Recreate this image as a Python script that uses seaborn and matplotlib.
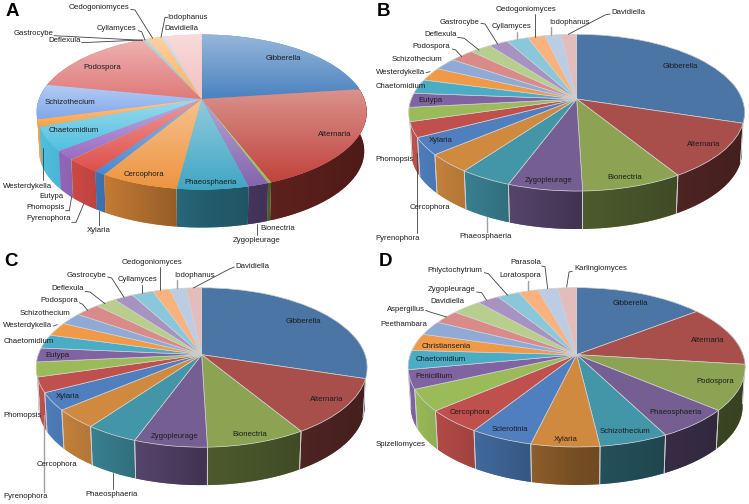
import numpy as np
import seaborn as sns
import matplotlib
matplotlib.use("Agg")
import matplotlib.pyplot as plt
from matplotlib.patches import Polygon
from matplotlib.transforms import Transform

# slice sizes in degrees of the pie, clockwise from 12 o'clock
names_a = ["Gibberella", "Alternaria", "Bionectria", "Zygopleurage", "Phaeosphaeria", "Cercophora", "Xylaria",
           "Pyrenophora", "Phomopsis", "Eutypa", "Chaetomidium", "Westerdykella", "Schizothecium", "Podospora",
           "Deflexula", "Gastrocybe", "Cyllamyces", "Oedogoniomyces", "Iodophanus", "Davidiella"]
values_a = [82.4, 76.6, 1.0, 6.15, 21.35, 23.5, 3.4, 10.5, 0.2, 6.9, 18.0, 5.2, 26.2, 53.8, 0.4, 0.4, 1.3, 6.2, 1.5, 15.2]

names_b = names_a
values_b = [107.6, 41.0, 29.7, 21.9, 15.5, 13.8, 12.7, 11.3, 10.3, 10.6, 10.8, 10.1, 9.2, 10.0, 8.6, 8.0, 8.8, 7.1, 6.6, 6.4]

names_c = names_a
values_c = [107.1, 41.2, 30.0, 22.1, 15.9, 13.9, 12.8, 11.0, 10.7, 10.3, 10.2, 10.1, 9.1, 10.1, 8.6, 8.0, 8.8, 7.1, 6.6, 6.4]

names_d = ["Gibberella", "Alternaria", "Podospora", "Phaeosphaeria", "Schizothecium", "Xylaria", "Sclerotinia",
           "Cercophora", "Spizellomyces", "Penicillium", "Chaetomidium", "Christiansenia", "Peethambara", "Aspergillus",
           "Davidiella", "Zygopleurage", "Phlyctochytrium", "Loratospora", "Parasola", "Karlingiomyces"]
values_d = [52.4, 44.6, 33.1, 22.6, 20.5, 20.3, 18.8, 17.3, 15.8, 13.8, 14.0, 12.7, 10.6, 10.3, 11.9, 8.9, 9.0, 7.8, 8.0, 7.6]

colors_flat = ["#4A75A5", "#A84F4C", "#8BA353", "#755E92", "#4395A8", "#D08A40",
               "#4F7FBE", "#C0504D", "#9BBB59", "#8064A2", "#4BACC6", "#F09A48",
               "#8FAAD6", "#D98B8A", "#B8CE8C", "#A793C2", "#8AC7DA", "#F9B27D", "#BACDE5", "#E3BCBC"]
colors_gloss = ["#4A82C0", "#C0443C", "#9BBB59", "#8565B0", "#40A6C4", "#EE9540",
                "#4A88D0", "#E0504C", "#9BBB59", "#9A6CC4", "#50C0E0", "#FFA040",
                "#80A8EC", "#E07A7A", "#B8CE8C", "#A793C2", "#8AC7DA", "#FFB060", "#BACDE5", "#F4C0C0"]

# label centres, same order as the names (axes units are 1/3 pixel)
labels_a = [(850, 177), (1005, 403), (833, 686), (769, 722), (631, 547), (433, 524), (296, 690), (147, 657), (138, 622),
            (153, 591), (221, 392), (84, 561), (211, 307), (306, 202), (195, 120), (100, 100), (350, 85), (297, 23),
            (562, 52), (543, 87)]
labels_b = [(915, 201), (986, 433), (750, 533), (522, 541), (331, 711), (165, 623), (197, 423), (68, 717), (60, 479),
            (165, 301), (78, 261), (78, 216), (127, 178), (170, 141), (197, 105), (255, 66), (411, 80), (453, 29),
            (582, 66), (761, 39)]
labels_c = [(909, 208), (979, 443), (748, 546), (523, 553), (335, 728), (172, 637), (204, 433), (77, 733), (67, 491),
            (172, 310), (85, 268), (84, 221), (135, 184), (177, 146), (203, 110), (260, 71), (413, 83), (455, 32),
            (582, 70), (758, 43)]
labels_d = [(766, 155), (998, 264), (1022, 389), (902, 481), (751, 539), (572, 563), (405, 532), (285, 480), (76, 578),
            (177, 374), (197, 322), (215, 285), (85, 217), (92, 172), (217, 148), (229, 113), (240, 56), (437, 71),
            (451, 33), (678, 51)]

dark = "#404040"
grey = "#a0a0a0"
leaders_a = [([392, 405, 458], [28, 30, 115], dark), ([503, 495, 483], [52, 52, 112], dark),
             ([415, 425, 435], [92, 95, 120], dark), ([162, 428], [107, 121], dark), ([245, 428], [128, 120], dark),
             ([128, 128], [445, 540], dark), ([197, 208, 215], [632, 632, 590], dark),
             ([215, 228, 252], [667, 667, 610], dark), ([298, 298], [632, 675], dark), ([770, 770], [672, 705], dark)]
leaders_b = [([705, 690, 580], [42, 45, 103], dark), ([529, 529], [80, 105], grey), ([480, 480], [42, 110], dark),
             ([425, 425], [95, 118], grey), ([318, 330, 368], [70, 72, 132], dark), ([248, 268, 312], [112, 115, 150], dark),
             ([232, 242, 260], [147, 150, 170], dark), ([153, 165], [218, 215], dark),
             ([125, 125], [460, 700], dark), ([337, 337], [650, 697], grey)]
leaders_c = [([703, 690, 580], [45, 50, 108], dark), ([531, 531], [84, 108], grey), ([481, 481], [45, 115], dark),
             ([427, 427], [98, 122], dark), ([323, 335, 372], [75, 78, 136], dark), ([255, 270, 315], [118, 120, 155], dark),
             ([238, 248, 263], [152, 157, 175], dark), ([160, 172], [222, 218], dark),
             ([131, 131], [490, 720], grey), ([339, 339], [662, 712], dark)]
leaders_d = [([592, 582, 575], [58, 60, 105], dark), ([500, 510, 518], [42, 44, 110], dark), ([459, 459], [87, 115], grey),
             ([328, 340, 398], [62, 65, 130], dark), ([305, 320, 335], [120, 122, 145], dark),
             ([152, 165, 215], [175, 180, 195], dark)]


class DiscToPanel(Transform):
    # tilted disc: unit circle to axes units, with some perspective
    input_dims = 2
    output_dims = 2

    def __init__(self, cx, cy, a, b, k, drop=0, scale=1.0):
        super().__init__()
        self.cx, self.cy, self.a, self.b, self.k = cx, cy, a, b, k
        self.drop, self.scale = drop, scale

    def transform_non_affine(self, values):
        x, y = np.asarray(values).T
        w = 1 + self.k * y
        return np.column_stack((self.cx + self.scale * self.a * x / w,
                                self.cy + self.drop - self.scale * self.b * y / w))


def draw_sides(ax, wedges, colors, disc, disc_low, edge):
    left, right = disc.cx - disc.a, disc.cx + disc.a
    sides = []
    for w, col in zip(wedges, colors):
        t = np.radians(np.linspace(w.theta1, w.theta2, 60))
        t = t[np.sin(t) < 0.25]
        if len(t) >= 2:
            sides.append((np.sin(t).mean(), t, col))
    for _, t, col in sorted(sides, key=lambda s: -s[0]):
        rim = np.column_stack((np.cos(t), np.sin(t)))
        top = disc.transform(rim)
        low = disc_low.transform(rim)
        verts = np.vstack((top, low[::-1]))
        face = Polygon(verts, closed=True, facecolor=col, edgecolor="none", transform=ax.transData, zorder=1)
        ax.add_patch(face)
        x0, x1 = verts[:, 0].min(), verts[:, 0].max()
        shade = np.interp(np.linspace(x0, x1, 64), [left, disc.cx, right], [1.0, 0.56, 0.40])
        rgb = np.array(matplotlib.colors.to_rgb(col)) * shade[:, None]
        im = ax.imshow(rgb[None, :, :], extent=(x0, x1, verts[:, 1].max(), verts[:, 1].min()),
                       aspect="auto", interpolation="bilinear", zorder=1)
        im.set_clip_path(face)
        if edge != "none":
            for i in (0, -1):
                if rim[i, 1] < 0:
                    ax.plot([top[i, 0], low[i, 0]], [top[i, 1], low[i, 1]], color=edge, lw=0.6, zorder=1.5)


def draw_gloss(ax, wedges, colors, disc):
    # panel A: each slice fades from pale at its top to full colour at its bottom
    for w, col in zip(wedges, colors):
        pts = disc.transform(w.get_path().vertices)
        base = np.array(matplotlib.colors.to_rgb(col))
        f = np.linspace(0.42, 0.0, 64)[:, None]
        rgb = base * (1 - f) + f
        im = ax.imshow(rgb[:, None, :], extent=(pts[:, 0].min(), pts[:, 0].max(), pts[:, 1].max(), pts[:, 1].min()),
                       aspect="auto", interpolation="bilinear", zorder=3.1)
        im.set_clip_path(w)


def draw_panel(ax, letter, names, values, colors, labels, leaders, geom, edge, gloss=False):
    cx, cy, a, b, k = geom
    disc = DiscToPanel(cx, cy, a, b, k)
    disc_low = DiscToPanel(cx, cy, a, b, k, drop=118, scale=0.985)

    wedges, _ = ax.pie(values, colors=sns.color_palette(colors), startangle=90, counterclock=False,
                       wedgeprops=dict(edgecolor=edge, linewidth=0.5))
    for w in wedges:
        w.set_transform(disc + ax.transData)
        w.set_zorder(3)

    draw_sides(ax, wedges, colors, disc, disc_low, edge)
    if gloss:
        draw_gloss(ax, wedges, colors, disc)

    for xs, ys, c in leaders:
        ax.plot(xs, ys, color=c, lw=1.0 if c == grey else 0.6, zorder=4)
    for name, (x, y) in zip(names, labels):
        ax.text(x, y, name, ha="center", va="center", fontsize=5.6, color="#1c1c1c", zorder=5)
    ax.text(letter[1], letter[2], letter[0], ha="center", va="center", fontsize=13.5, fontweight="bold",
            color="black", zorder=5)

    ax.set_aspect("auto")
    ax.set_xlim(0, 1125)
    ax.set_ylim(756, 0)
    ax.axis("off")


sns.set_theme(style="white", font="Liberation Sans")
plt.rcParams["font.family"] = ["Liberation Sans", "DejaVu Sans"]

fig = plt.figure(figsize=(7.49, 5.04), dpi=100)
W, H = 749.0, 504.0


def panel_axes(x0, y0):
    return fig.add_axes([x0 / W, 1 - (y0 + 252) / H, 375 / W, 252 / H])


draw_panel(panel_axes(0, 0), ("A", 38, 33), names_a, values_a, colors_gloss, labels_a, leaders_a,
           (605, 297, 488, 226, 0.168), "none", gloss=True)
draw_panel(panel_axes(375, 0), ("B", 27, 33), names_b, values_b, colors_flat, labels_b, leaders_b,
           (605, 297, 496, 228, 0.1745), "#d0d0d0")
draw_panel(panel_axes(0, 252), ("C", 33, 27), names_c, values_c, colors_flat, labels_c, leaders_c,
           (605, 308, 490, 233, 0.1607), "#d0d0d0")
draw_panel(panel_axes(375, 252), ("D", 30, 30), names_d, values_d, colors_flat, labels_d, leaders_d,
           (605, 308, 499, 233, 0.159), "#d0d0d0")

fig.savefig("out.png", dpi=100, facecolor="white")
